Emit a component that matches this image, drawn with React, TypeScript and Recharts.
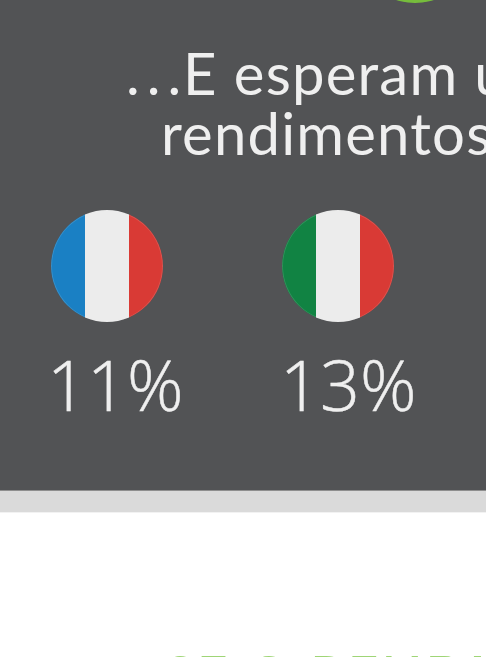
import React from "react";
import { BarChart, Bar, XAxis, YAxis } from "recharts";

const stripeNames = ["left", "middle", "right"];
const flagNames = ["França", "Itália"];
const stripeWidths = [34, 44, 34];
const franceColors = ["#1a80c4", "#ececec", "#d93a35"];
const italyColors = ["#118343", "#ececec", "#d93a35"];
const percents = [11, 13];
const titleDots = "..";
const titleLastDot = ".";
const titleLines = ["E esperam um", "rendimentos"];
const footerText = "SE O RENDI";

const FONT = "Lato, 'Open Sans', sans-serif";
const D = 112;

function Flag({ name, colors, left }: { name: string; colors: string[]; left: number }) {
  const row: Record<string, string | number> = { name };
  stripeNames.forEach((s, i) => (row[s] = stripeWidths[i]));
  return (
    <div style={{ position: "absolute", left, top: 210, width: D, height: D, borderRadius: "50%", overflow: "hidden" }}>
      <BarChart width={D} height={D} data={[row]} layout="vertical" margin={{ top: 0, right: 0, bottom: 0, left: 0 }} barCategoryGap={0}>
        <XAxis type="number" hide domain={[0, D]} />
        <YAxis type="category" dataKey="name" hide />
        {stripeNames.map((s, i) => (
          <Bar key={s} dataKey={s} stackId="flag" fill={colors[i]} isAnimationActive={false} />
        ))}
      </BarChart>
      <div style={{ position: "absolute", inset: 0, borderRadius: "50%", boxShadow: "inset 0 0 0 1px rgba(235,235,235,0.15)" }} />
    </div>
  );
}

export default function App() {
  return (
    <div style={{ position: "absolute", left: 0, top: 0, width: 486, height: 657, overflow: "hidden", background: "#fff", fontFamily: FONT }}>
      <div style={{ position: "absolute", left: 0, top: 0, width: 486, height: 490, background: "#525355" }} />
      <div style={{ position: "absolute", left: 0, top: 490, width: 486, height: 1, background: "#8e8e8e" }} />
      <div style={{ position: "absolute", left: 0, top: 491, width: 486, height: 21, background: "#dadada" }} />
      <div style={{ position: "absolute", left: 0, top: 512, width: 486, height: 1, background: "#f2f2f2" }} />
      <div style={{ position: "absolute", left: 378, top: -40, width: 74, height: 43, borderRadius: "50%", background: "#76bd3c" }} />
      <div style={{ position: "absolute", left: 126, top: 38, fontSize: 58, lineHeight: "70px", fontWeight: 400, color: "#efefef", whiteSpace: "nowrap", letterSpacing: 1.2 }}>
        <span style={{ letterSpacing: 7 }}>{titleDots}</span>
        <span style={{ letterSpacing: 2 }}>{titleLastDot}</span>
        {titleLines[0]}
      </div>
      <div style={{ position: "absolute", left: 161, top: 98, fontSize: 58, lineHeight: "70px", fontWeight: 400, color: "#efefef", whiteSpace: "nowrap", letterSpacing: 1.2 }}>
        {titleLines[1]}
      </div>
      <Flag name={flagNames[0]} colors={franceColors} left={51} />
      <Flag name={flagNames[1]} colors={italyColors} left={282} />
      {percents.map((p, i) => (
        <div key={p} style={{ position: "absolute", left: i === 0 ? 47 : 280, top: 342, fontSize: 70, lineHeight: "84px", fontWeight: 300, WebkitTextStroke: "0.5px #efefef", fontFamily: "'Open Sans', sans-serif", color: "#efefef", whiteSpace: "nowrap" }}>{p}%</div>
      ))}
      <div style={{ position: "absolute", left: 165, top: 647, fontSize: 52, lineHeight: "52px", fontWeight: 700, letterSpacing: 4, color: "#9fd576", whiteSpace: "nowrap" }}>{footerText}</div>
    </div>
  );
}
